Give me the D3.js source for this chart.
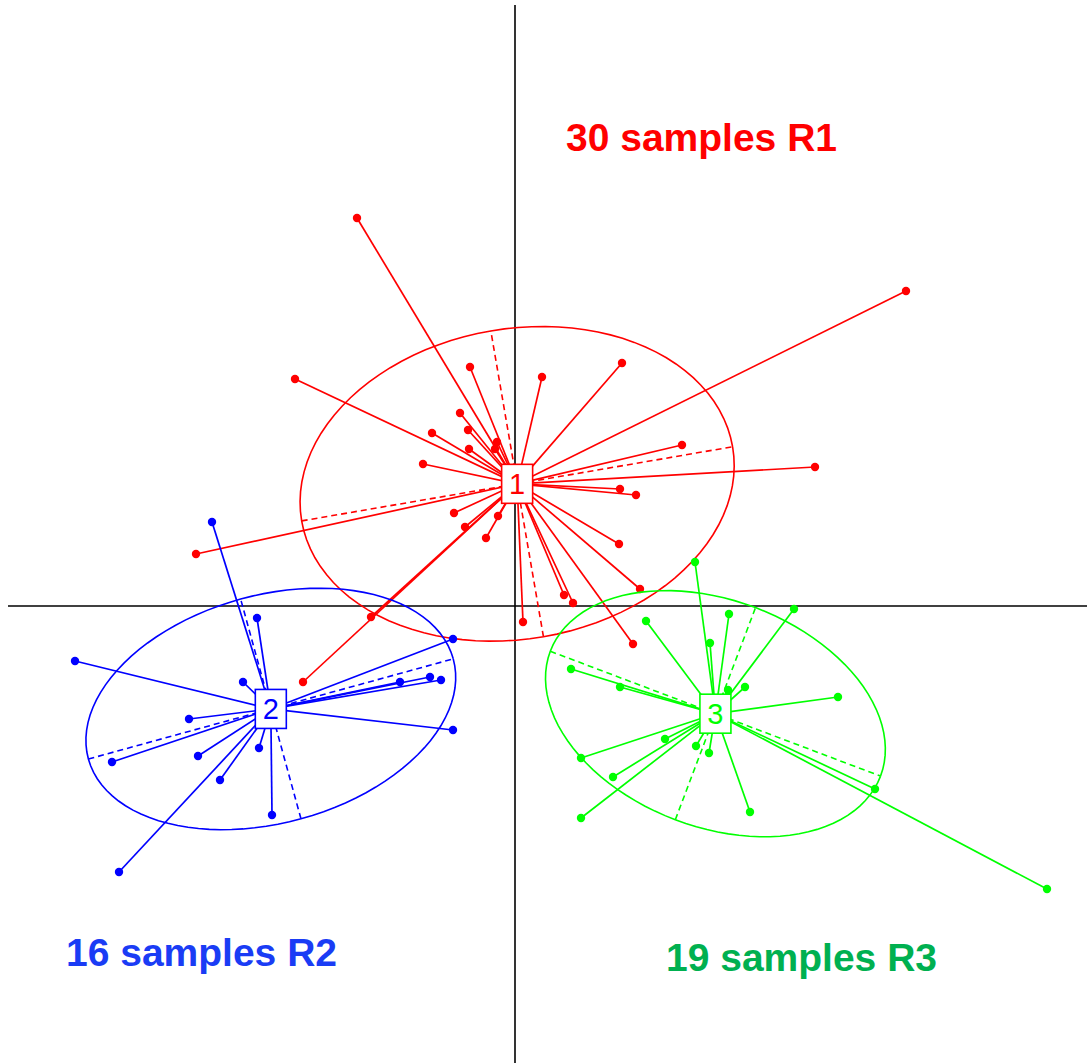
<!DOCTYPE html>
<html>
<head>
<meta charset="utf-8">
<script src="https://cdn.jsdelivr.net/npm/d3@7"></script>
<style>
  body { margin: 0; background: #fff; }
  svg { display: block; }
</style>
</head>
<body>
<script>
const w = 1087,
  h = 1063;

// sample scores per group (factor plane 1 x 2)
const r1X = [-2.20, -0.45, 0.27, 1.07, -0.55, -0.47, -0.83, -0.18, -0.20, -0.46, -0.92, 1.67, 1.05, 1.21, -0.61,
  -0.17, -0.50, -0.29, 1.04, 1.25, 0.49, 0.58, 0.08, 1.18, -1.44, -1.58, 3.91, 3.00, -3.19, -2.12];
const r1Y = [2.27, 2.39, 2.29, 2.43, 1.93, 1.76, 1.73, 1.64, 1.57, 1.57, 1.42, 1.61, 1.17, 1.11, 0.93,
  0.90, 0.79, 0.68, 0.62, 0.17, 0.11, 0.03, -0.16, -0.38, -0.11, 3.88, 3.15, 1.39, 0.52, -0.76];

const r2X = [-3.03, -2.58, -4.40, -2.72, -0.62, -1.15, -0.85, -0.74, -3.26, -0.62, -4.03, -3.17, -2.56, -2.95, -2.43, -3.96];
const r2Y = [0.84, -0.12, -0.55, -0.76, -0.33, -0.76, -0.71, -0.74, -1.13, -1.24, -1.56, -1.50, -1.42, -1.74, -2.09, -2.66];

const r3X = [1.80, 2.79, 2.14, 1.31, 1.95, 0.56, 1.05, 2.30, 2.13, 3.23, 1.50, 1.81, 1.94, 0.66, 0.98, 3.60, 2.35, 0.66, 5.32];
const r3Y = [0.44, -0.03, -0.08, -0.15, -0.37, -0.63, -0.81, -0.81, -0.84, -0.91, -1.33, -1.40, -1.47, -1.52, -1.71, -1.83, -2.06, -2.12, -2.83];

const groupNames = ['1', '2', '3'];
const groupTitles = ['30 samples R1', '16 samples R2', '19 samples R3'];
const groupColors = ['#ff0000', '#0000ff', '#00ff00'];
const titleColors = ['#ff0000', '#1a3cf5', '#00b050'];

const groups = [
  { name: groupNames[0], xs: r1X, ys: r1Y, color: groupColors[0] },
  { name: groupNames[1], xs: r2X, ys: r2Y, color: groupColors[1] },
  { name: groupNames[2], xs: r3X, ys: r3Y, color: groupColors[2] }
];

const cellipse = 1.5;

const x = d3.scaleLinear().domain([-5.07, 5.72]).range([8, 1087]);
const y = d3.scaleLinear().domain([6.01, -4.57]).range([5, 1063]);

const svg = d3.select('body')
  .append('svg')
  .attr('width', w)
  .attr('height', h);

// axes through the origin
svg.append('line')
  .attr('x1', x(-5.07)).attr('x2', x(5.72))
  .attr('y1', y(0)).attr('y2', y(0))
  .attr('stroke', '#000').attr('stroke-width', 1.6);
svg.append('line')
  .attr('x1', x(0)).attr('x2', x(0))
  .attr('y1', y(6.01)).attr('y2', y(-4.57))
  .attr('stroke', '#000').attr('stroke-width', 1.6);

// ellipse like ade4 util.ellipse (weights 1/n)
function ellipseOf(xs, ys) {
  const n = xs.length;
  const mx = d3.mean(xs), my = d3.mean(ys);
  const vx = d3.sum(xs, d => (d - mx) * (d - mx)) / n;
  const vy = d3.sum(ys, d => (d - my) * (d - my)) / n;
  const cxy = d3.sum(xs, (d, i) => (d - mx) * (ys[i] - my)) / n;
  const delta = Math.sqrt((vx - vy) * (vx - vy) + 4 * cxy * cxy);
  let l1 = (vx + vy + delta) / 2;
  let l2 = vx + vy - l1;
  l1 = Math.sqrt(Math.max(l1, 0));
  l2 = Math.sqrt(Math.max(l2, 0));
  let a0 = 1, b0 = (l1 * l1 - vx) / cxy;
  const norm = Math.sqrt(a0 * a0 + b0 * b0);
  a0 = a0 / norm; b0 = b0 / norm;
  const c11 = cellipse * a0 * l1,
    c12 = -cellipse * b0 * l2,
    c21 = cellipse * b0 * l1,
    c22 = cellipse * a0 * l2;
  const pts = d3.range(0, 101).map(i => {
    const t = 2 * Math.PI * i / 100;
    return [mx + c11 * Math.cos(t) + c12 * Math.sin(t), my + c21 * Math.cos(t) + c22 * Math.sin(t)];
  });
  return { mx, my, pts, c11, c12, c21, c22 };
}

const line = d3.line().x(d => x(d[0])).y(d => y(d[1]));

groups.forEach(g => {
  const e = ellipseOf(g.xs, g.ys);
  g.e = e;
  const gg = svg.append('g');

  gg.append('path')
    .attr('d', line(e.pts))
    .attr('fill', 'none')
    .attr('stroke', g.color)
    .attr('stroke-width', 1.6);

  // ellipse axes
  gg.selectAll('line.ax')
    .data([[e.c11, e.c21], [e.c12, e.c22]])
    .enter()
    .append('line')
    .attr('x1', d => x(e.mx - d[0]))
    .attr('y1', d => y(e.my - d[1]))
    .attr('x2', d => x(e.mx + d[0]))
    .attr('y2', d => y(e.my + d[1]))
    .attr('stroke', g.color)
    .attr('stroke-width', 1.6)
    .attr('stroke-dasharray', '6,4');

  // star
  gg.selectAll('line.st')
    .data(g.xs)
    .enter()
    .append('line')
    .attr('x1', x(e.mx))
    .attr('y1', y(e.my))
    .attr('x2', d => x(d))
    .attr('y2', (d, i) => y(g.ys[i]))
    .attr('stroke', g.color)
    .attr('stroke-width', 1.7);

  gg.selectAll('circle')
    .data(g.xs)
    .enter()
    .append('circle')
    .attr('cx', d => x(d))
    .attr('cy', (d, i) => y(g.ys[i]))
    .attr('r', 4.2)
    .attr('fill', g.color);
});

// group labels in boxes
groups.forEach(g => {
  const cx = x(g.e.mx), cy = y(g.e.my);
  svg.append('rect')
    .attr('x', cx - 15.5).attr('y', cy - 19.5)
    .attr('width', 31).attr('height', 39)
    .attr('fill', '#fff')
    .attr('stroke', g.color)
    .attr('stroke-width', 1.6);
  svg.append('text')
    .attr('x', cx).attr('y', cy + 10.5)
    .attr('text-anchor', 'middle')
    .attr('font-family', 'Liberation Sans, Arial, sans-serif')
    .attr('font-size', '29px')
    .attr('fill', g.color)
    .text(g.name);
});

// titles
const titlePos = [[566, 151], [66, 966], [666, 971]];
svg.selectAll('text.title')
  .data(groupTitles)
  .enter()
  .append('text')
  .attr('class', 'title')
  .attr('x', (d, i) => titlePos[i][0])
  .attr('y', (d, i) => titlePos[i][1])
  .attr('font-family', 'Liberation Sans, Arial, sans-serif')
  .attr('font-weight', 'bold')
  .attr('font-size', '39px')
  .attr('fill', (d, i) => titleColors[i])
  .text(d => d);
</script>
</body>
</html>
